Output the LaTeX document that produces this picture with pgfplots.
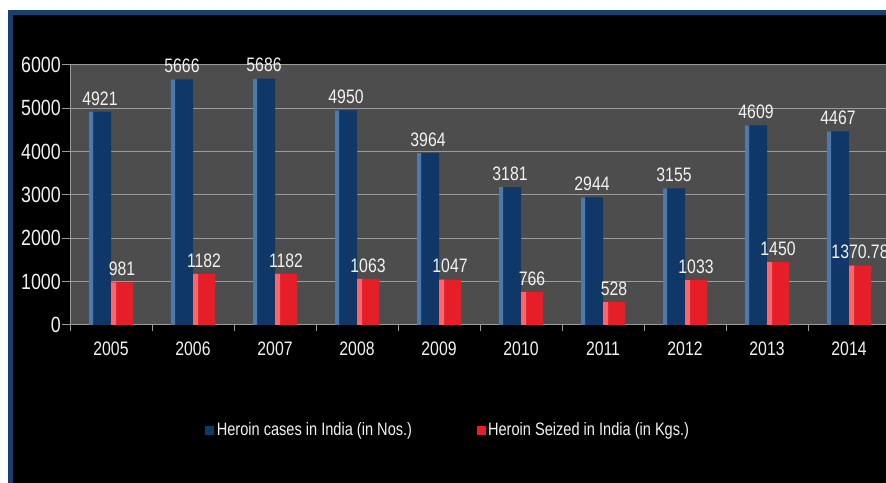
\documentclass[border=0pt]{standalone}
\usepackage{pgfplots}
\pgfplotsset{compat=1.18}
\usepackage{fontspec}
\setmainfont{Liberation Sans}[FakeStretch=0.81]
\definecolor{bordblue}{HTML}{17406F}
\definecolor{plotgray}{HTML}{4D4D4D}
\definecolor{gridgray}{HTML}{9A9A9A}
\definecolor{barblue}{HTML}{0F3868}
\definecolor{barbluel}{HTML}{4F79A8}
\definecolor{barred}{HTML}{E61E28}
\definecolor{barredl}{HTML}{F26A70}
\definecolor{labwhite}{HTML}{F2F2F2}
\pgfplotstableread{
x blue red
0 4921 981
1 5666 1182
2 5686 1182
3 4950 1063
4 3964 1047
5 3181 766
6 2944 528
7 3155 1033
8 4609 1450
9 4467 1370.78
}\datatable
\begin{document}
\begin{tikzpicture}[x=1bp,y=1bp]
\useasboundingbox (0,0) rectangle (886,483);
\clip (0,0) rectangle (886,483);
\fill[white] (0,0) rectangle (886,483);
\fill[bordblue] (8,0) rectangle (886,473);
\fill[black] (13,0) rectangle (886,468);
\begin{axis}[
  at={(70bp,158bp)}, anchor=south west,
  width=820bp, height=260bp, scale only axis,
  xmin=-0.5, xmax=9.5, ymin=0, ymax=6000,
  clip=false,
  ybar=0pt, bar width=22bp,
  axis background/.style={fill=plotgray},
  axis x line*=bottom, axis y line*=left,
  axis line style={gridgray, line width=1bp},
  ymajorgrids, grid style={gridgray, line width=1bp},
  ytick={0,1000,...,6000},
  xtick={0,...,9},
  xticklabels={2005,2006,2007,2008,2009,2010,2011,2012,2013,2014},
  minor xtick={-0.5,0.5,...,9.5},
  tick align=outside,
  major tick length=8bp, minor tick length=6bp,
  major x tick style={draw=none},
  minor x tick style={gridgray, line width=1bp},
  y tick style={gridgray, line width=1bp},
  scaled ticks=false,
  /pgf/number format/.cd, assume math mode=true, 1000 sep={}, precision=2,
  /pgfplots/.cd,
  yticklabel style={font=\fontsize{22bp}{26bp}\selectfont, text=labwhite, inner sep=1bp},
  xticklabel style={font=\fontsize{19.5bp}{23bp}\selectfont, text=labwhite, inner sep=1bp, yshift=-8bp},
  nodes near coords style={font=\fontsize{19.5bp}{23bp}\selectfont, text=labwhite, anchor=south, yshift=3bp},
  legend columns=2,
  legend style={draw=none, fill=none, text=labwhite, font=\fontsize{18bp}{22bp}\selectfont,
    at={(0.4615,-0.404)}, anchor=center,
    /tikz/every even column/.append style={column sep=62bp},
    nodes={inner sep=2.5bp}},
  legend image code/.code={\fill[#1, draw=none] (0bp,-4.5bp) rectangle (9bp,4.5bp);},
]
\addplot[draw=none, fill=barblue, bar shift=-11bp, nodes near coords] table[x=x, y=blue] {\datatable};
\addlegendentry{Heroin cases in India (in Nos.)}
\addplot[draw=none, fill=barred, bar shift=11bp, nodes near coords] table[x=x, y=red] {\datatable};
\addlegendentry{Heroin Seized in India (in Kgs.)}
\addplot[draw=none, fill=barbluel, bar width=4bp, bar shift=-20bp, forget plot] table[x=x, y=blue] {\datatable};
\addplot[draw=none, fill=barredl, bar width=5bp, bar shift=2.5bp, forget plot] table[x=x, y=red] {\datatable};
\end{axis}
\end{tikzpicture}
\end{document}
